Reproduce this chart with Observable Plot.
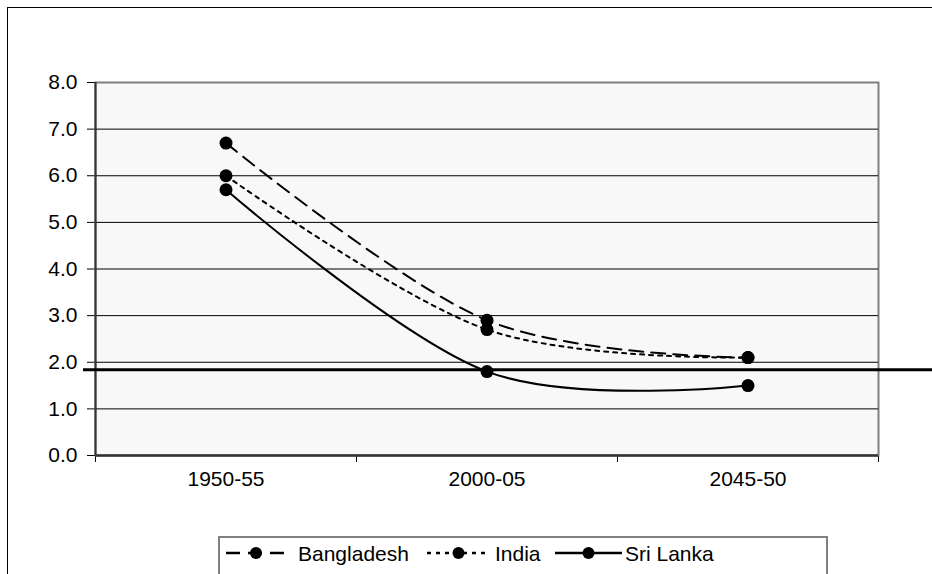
<!DOCTYPE html>
<html><head><meta charset="utf-8">
<script src="https://cdn.jsdelivr.net/npm/d3@7"></script>
<script src="https://cdn.jsdelivr.net/npm/@observablehq/plot@0.6"></script>
<style>
body{margin:0;background:#fff;font-family:"Liberation Sans",Arial,sans-serif;}
#wrap{position:relative;width:932px;height:574px;overflow:hidden;background:#fff;}
#border{position:absolute;left:7px;top:7px;width:1000px;height:1000px;border-left:1.5px solid #000;border-top:1.5px solid #000;box-sizing:border-box;}
#chart{position:absolute;left:0;top:0;}
#legend{position:absolute;left:218px;top:536px;width:610px;height:60px;border:2px solid #808080;background:#fff;box-sizing:border-box;}
.lg{position:absolute;font-size:21px;line-height:21px;top:543px;color:#000;white-space:nowrap;}
.sw{position:absolute;top:543px;}
</style>
</head><body>
<div id="wrap">
<div id="border"></div>
<div id="chart"></div>
<div id="legend"></div>
</div>
<script>
const categories = ["1950-55", "2000-05", "2045-50"];
const bangladesh = [6.7, 2.9, 2.1];
const india = [6.0, 2.7, 2.1];
const sriLanka = [5.7, 1.8, 1.5];
const yTicks = [0, 1, 2, 3, 4, 5, 6, 7, 8];
const referenceLevel = [1.84];
const seriesNames = ["Bangladesh", "India", "Sri Lanka"];
const seriesValues = [bangladesh, india, sriLanka];
const dashes = {"Bangladesh": "14,8", "India": "4,5", "Sri Lanka": "none"};

const rows = seriesNames.flatMap((s, k) => categories.map((c, i) => ({series: s, cat: c, xi: i + 0.5, v: seriesValues[k][i]})));

const chart = Plot.plot({
  width: 932, height: 574,
  marginLeft: 95, marginRight: 54, marginTop: 82, marginBottom: 119,
  style: {fontFamily: "Liberation Sans, Arial, sans-serif", fontSize: "21px", background: "transparent", color: "#000", overflow: "visible"},
  x: {type: "linear", domain: [0, categories.length], ticks: d3.range(categories.length + 1), tickFormat: () => "", tickSize: 7, label: null},
  y: {domain: [0, 8], ticks: yTicks, tickFormat: d3.format(".1f"), tickSize: 8, tickPadding: 10, label: null},
  marks: [
    Plot.frame({fill: "#f8f8f8", stroke: "#808080", strokeWidth: 2}),
    Plot.ruleY(yTicks.slice(1, -1), {stroke: "#000", strokeWidth: 1}),
    Plot.ruleX([0], {stroke: "#333", strokeWidth: 2}),
    Plot.ruleY([0], {stroke: "#333", strokeWidth: 2.5}),
    Plot.ruleY(referenceLevel, {stroke: "#000", strokeWidth: 3, insetLeft: -12, insetRight: -60}),
    ...seriesNames.map(s => Plot.line(rows.filter(r => r.series === s), {
      x: "xi", y: "v", curve: "cardinal", stroke: "#000", strokeWidth: 2, strokeDasharray: dashes[s]
    })),
    Plot.dot(rows, {x: "xi", y: "v", r: 6.5, fill: "#000", stroke: "none"}),
    Plot.text(categories, {x: (d, i) => i + 0.5, frameAnchor: "bottom", dy: 30, text: d => d, fontSize: 21})
  ]
});
document.getElementById("chart").appendChild(chart);

// legend
const wrap = document.getElementById("wrap");
const legendItems = [
  {name: "Bangladesh", sx: 226, sw: 60, tx: 298},
  {name: "India", sx: 427, sw: 63, tx: 495},
  {name: "Sri Lanka", sx: 555, sw: 67, tx: 625}
];
legendItems.forEach(it => {
  const svg = d3.create("svg").attr("class", "sw").attr("width", it.sw).attr("height", 20)
    .style("left", it.sx + "px").style("top", "543px");
  svg.append("line").attr("x1", 0).attr("x2", it.sw).attr("y1", 10).attr("y2", 10)
    .attr("stroke", "#000").attr("stroke-width", 2.5).attr("stroke-dasharray", dashes[it.name]);
  svg.append("circle").attr("cx", it.sw / 2).attr("cy", 10).attr("r", 6).attr("fill", "#000");
  wrap.appendChild(svg.node());
  const t = document.createElement("div");
  t.className = "lg";
  t.style.left = it.tx + "px";
  t.textContent = it.name;
  wrap.appendChild(t);
});
</script>
</body></html>
